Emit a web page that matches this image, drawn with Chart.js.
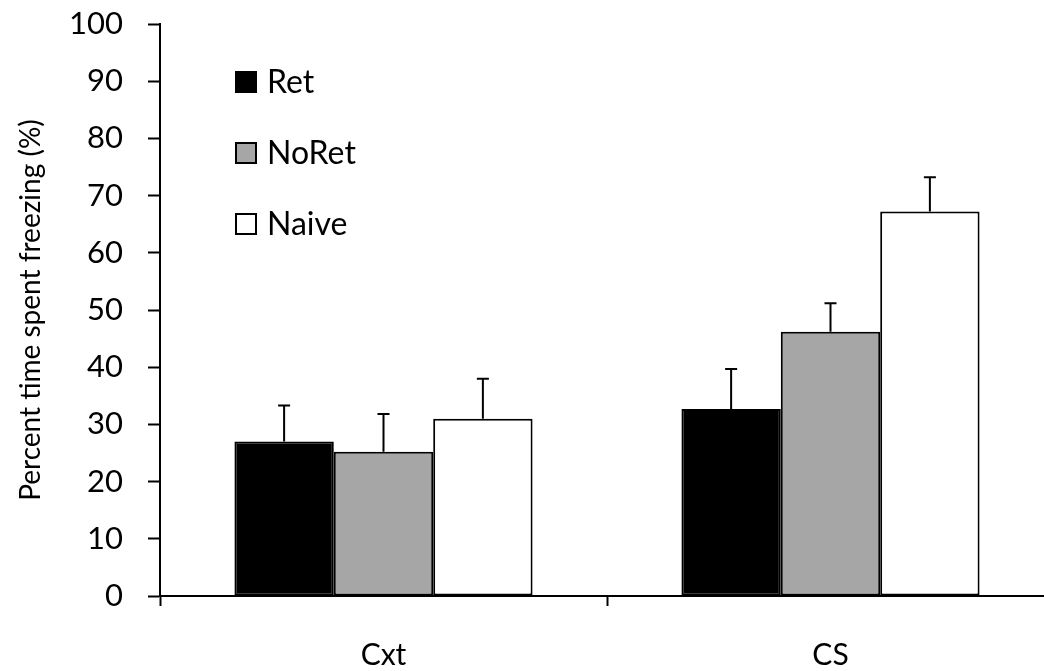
<!DOCTYPE html>
<html>
<head>
<meta charset="utf-8">
<title>Freezing</title>
<script src="https://cdn.jsdelivr.net/npm/chart.js@4/dist/chart.umd.min.js"></script>
<style>
    body { margin: 0; overflow: hidden; background: #fff; }
    #myChart { display: block; }
</style>
</head>
<body>
<canvas id="myChart" width="1060" height="671"></canvas>
<script>
// data
const categories = ['Cxt', 'CS'];
const groups = ['Ret', 'NoRet', 'Naive'];
const retValues = [27.0, 32.7];
const noRetValues = [25.2, 46.2];
const naiveValues = [31.0, 67.2];
const retErrors = [6.3, 7.0];
const noRetErrors = [6.6, 5.0];
const naiveErrors = [7.0, 6.0];
const yTicks = [0, 10, 20, 30, 40, 50, 60, 70, 80, 90, 100];

const fillColors = ['#000000', '#a6a6a6', '#ffffff'];
const FONT = 'Lato, "Open Sans", sans-serif';

// upward-only error bars with a small cap
const errorBars = {
    id: 'errorBars',
    afterDatasetsDraw(chart) {
        var ctx = chart.ctx;
        var yScale = chart.scales.y;
        ctx.save();
        ctx.strokeStyle = '#000';
        ctx.lineWidth = 2;
        chart.data.datasets.forEach((ds, i) => {
            var meta = chart.getDatasetMeta(i);
            meta.data.forEach((bar, j) => {
                var top = yScale.getPixelForValue(ds.data[j] + ds.errors[j]);
                ctx.beginPath();
                ctx.moveTo(bar.x, bar.y);
                ctx.lineTo(bar.x, top);
                ctx.moveTo(bar.x - 6, top);
                ctx.lineTo(bar.x + 6, top);
                ctx.stroke();
            });
        });
        ctx.restore();
    }
};

// legend sits inside the plot, stacked vertically
const insideLegend = {
    id: 'insideLegend',
    afterDraw(chart) {
        var ctx = chart.ctx;
        var x = chart.chartArea.left + 76;
        var y = 82;
        ctx.save();
        ctx.font = '32px ' + FONT;
        ctx.textBaseline = 'middle';
        chart.data.datasets.forEach((ds, i) => {
            var cy = y + i * 71;
            ctx.fillStyle = ds.backgroundColor;
            ctx.fillRect(x, cy - 10, 20, 20);
            ctx.strokeStyle = '#000';
            ctx.lineWidth = 2;
            ctx.strokeRect(x, cy - 10, 20, 20);
            ctx.fillStyle = '#000';
            ctx.fillText(ds.label, x + 31, cy + 1);
        });
        ctx.restore();
    }
};

const values = [retValues, noRetValues, naiveValues];
const errors = [retErrors, noRetErrors, naiveErrors];

let data = {
    labels: categories,
    datasets: groups.map((g, i) => ({
        label: g,
        data: values[i],
        errors: errors[i],
        backgroundColor: fillColors[i],
        borderColor: '#000',
        borderWidth: 2,
        borderSkipped: false,
        barPercentage: 1.0,
        categoryPercentage: 0.667
    }))
};

var ctx = document.getElementById('myChart');

let myChart = new Chart(ctx, {
    type: 'bar',
    data: data,
    plugins: [errorBars, insideLegend],
    options: {
        responsive: false,
        animation: false,
        layout: { padding: { top: 24, right: 6, left: 0, bottom: 0 } },
        plugins: {
            legend: { display: false },
            tooltip: { enabled: false }
        },
        scales: {
            x: {
                grid: {
                    drawOnChartArea: false,
                    drawTicks: true,
                    tickLength: 10,
                    tickWidth: 2,
                    tickColor: '#000',
                    offset: true
                },
                border: { color: '#000', width: 2 },
                ticks: {
                    color: '#000',
                    padding: 31,
                    font: { family: FONT, size: 30 }
                },
                afterFit(scale) {
                    scale.height = 75;
                    scale.paddingLeft = 0;
                    scale.paddingRight = 0;
                }
            },
            y: {
                min: 0,
                max: 100,
                afterBuildTicks(scale) {
                    scale.ticks = yTicks.map(v => ({ value: v }));
                },
                grid: {
                    drawOnChartArea: false,
                    drawTicks: true,
                    tickLength: 12,
                    tickWidth: 2,
                    tickColor: '#000'
                },
                border: { color: '#000', width: 2 },
                ticks: {
                    color: '#000',
                    padding: 25,
                    font: { family: FONT, size: 31 }
                },
                title: {
                    display: true,
                    text: 'Percent time spent freezing (%)',
                    color: '#000',
                    font: { family: FONT, size: 28 },
                    padding: { top: 14, bottom: 0 }
                },
                afterFit(scale) {
                    scale.width = 160;
                    scale.paddingTop = 0;
                    scale.paddingBottom = 0;
                }
            }
        }
    }
});
</script>
</body>
</html>
